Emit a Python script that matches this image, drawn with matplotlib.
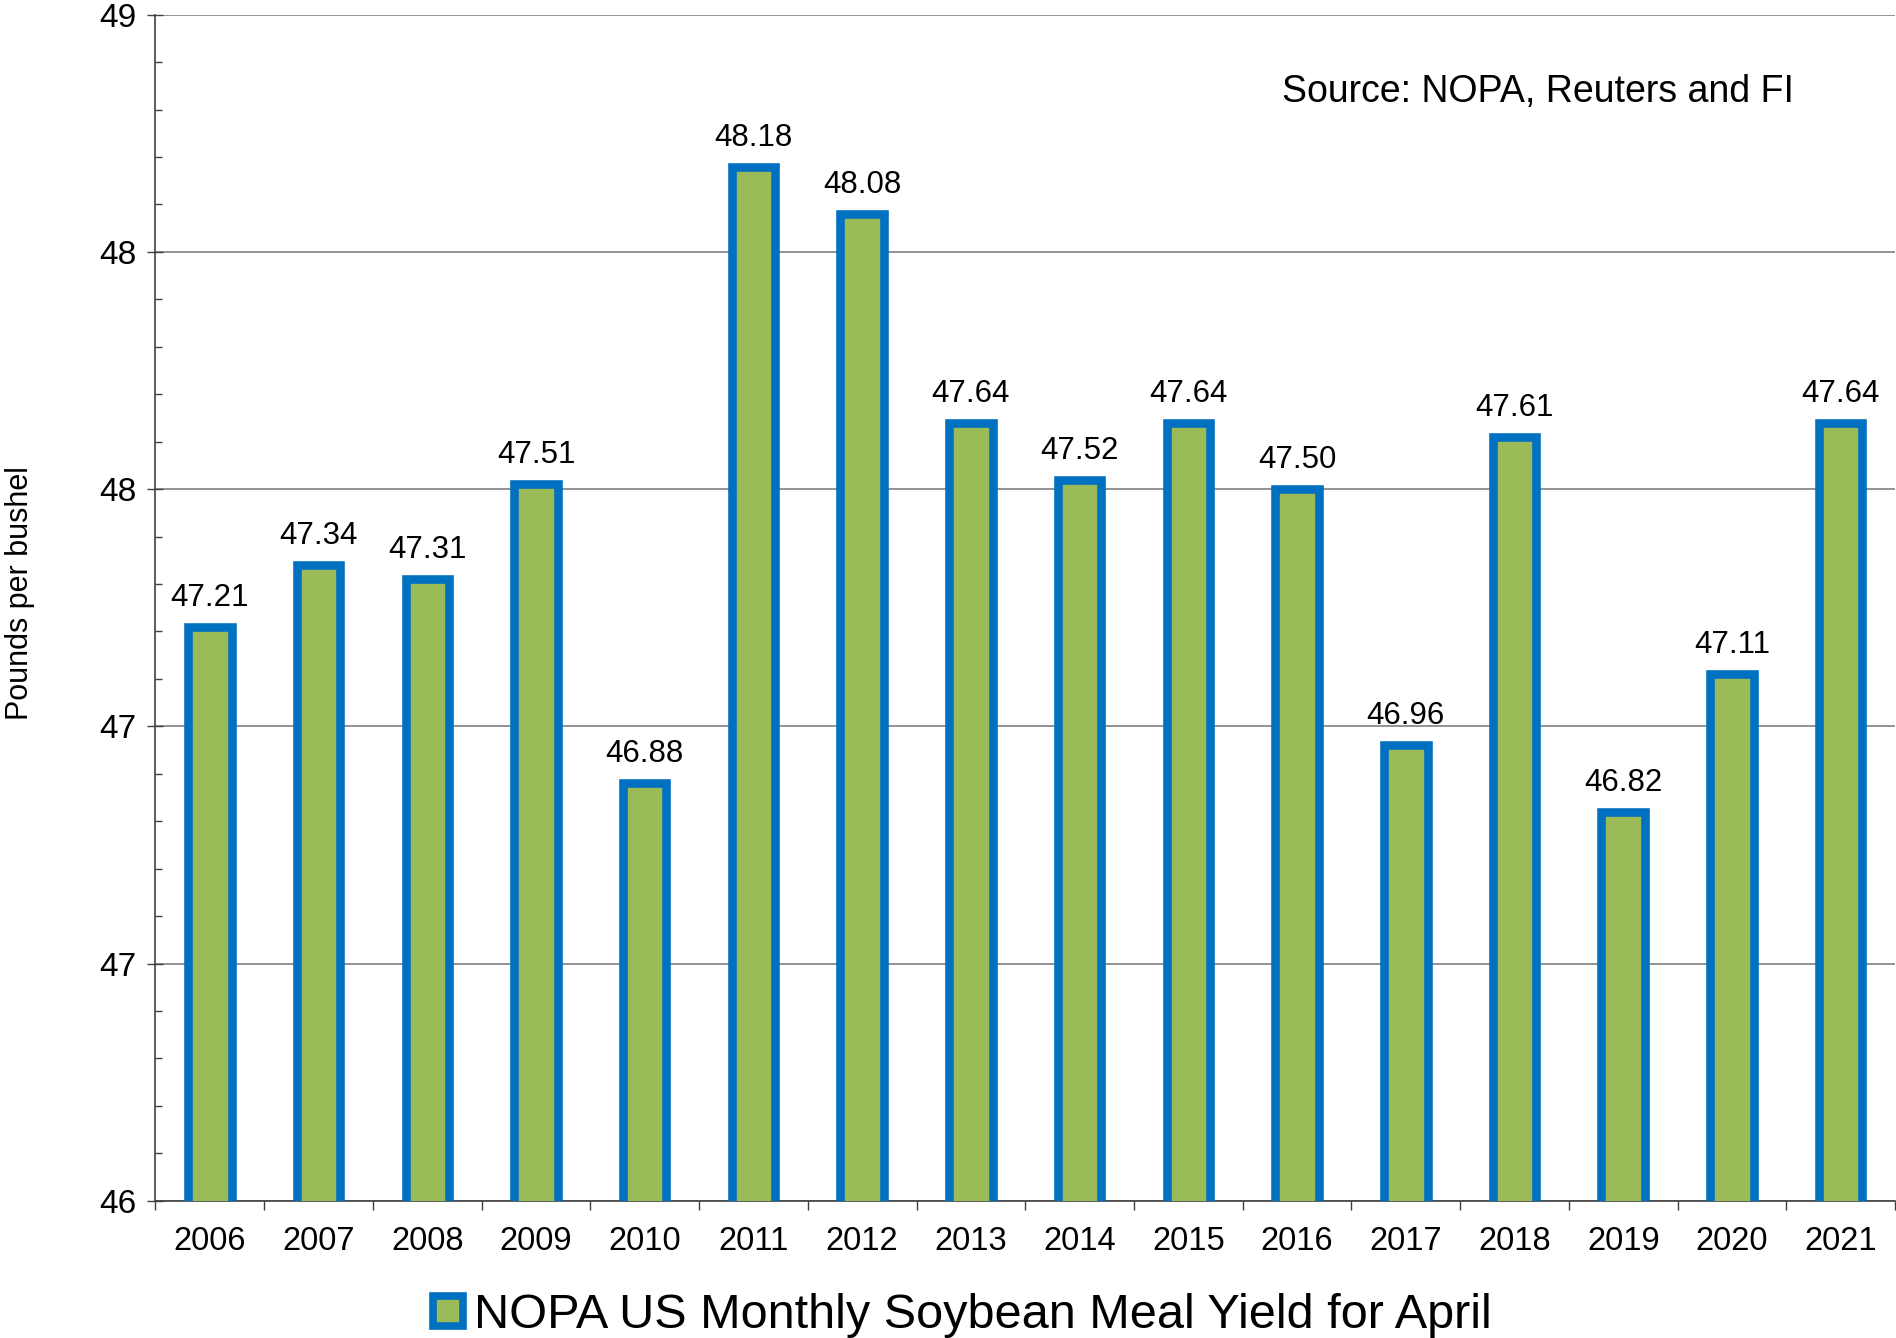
import numpy as np
import matplotlib.pyplot as plt
from matplotlib.lines import Line2D
from matplotlib.ticker import MultipleLocator, FixedLocator

plt.rcParams['font.family'] = ['Liberation Sans', 'DejaVu Sans']

# April soybean meal yield, pounds per bushel
years = ['2006', '2007', '2008', '2009', '2010', '2011', '2012', '2013',
         '2014', '2015', '2016', '2017', '2018', '2019', '2020', '2021']
yields = [47.21, 47.34, 47.31, 47.51, 46.88, 48.18, 48.08, 47.64,
          47.52, 47.64, 47.50, 46.96, 47.61, 46.82, 47.11, 47.64]

# axis ticks every 0.5, labels rounded to whole numbers like the original
ytick_vals = [46.0, 46.5, 47.0, 47.5, 48.0, 48.5]
ytick_labels = ['46', '47', '47', '48', '48', '49']

green = '#9BBB59'
blue = '#0070C0'

fig = plt.figure(figsize=(18.96, 13.38), dpi=100)
ax = fig.add_axes([0.082, 0.1026, 0.9175, 0.8864])

x = np.arange(len(years))
ax.bar(x, yields, width=0.4, bottom=0, color=green, edgecolor=blue,
       linewidth=6.2, zorder=3)

# value labels above the bars
for xi, v in zip(x, yields):
    ax.annotate(f'{v:.2f}', (xi, v), xytext=(0, 10), textcoords='offset points',
                ha='center', va='bottom', fontsize=22.5, zorder=4)

ax.set_xlim(-0.5, len(years) - 0.5)
ax.set_ylim(46, 48.5)

ax.set_yticks(ytick_vals)
ax.set_yticklabels(ytick_labels, fontsize=24)
ax.yaxis.set_minor_locator(MultipleLocator(0.1))
ax.tick_params(axis='y', which='major', direction='inout', length=11.5,
               width=1, color='#404040', pad=8)
ax.tick_params(axis='y', which='minor', direction='in', length=5,
               width=1, color='#404040')

ax.set_xticks(x)
ax.set_xticklabels(years, fontsize=23.5)
ax.xaxis.set_minor_locator(FixedLocator(np.arange(-0.5, len(years), 1.0)))
ax.tick_params(axis='x', which='major', length=0, pad=18)
ax.tick_params(axis='x', which='minor', direction='out', length=6.5,
               width=1, color='#404040')

ax.grid(axis='y', which='major', color='#808080', linewidth=1.2, zorder=0)
ax.set_axisbelow(True)
for s in ['top', 'right']:
    ax.spines[s].set_visible(False)
for s in ['left', 'bottom']:
    ax.spines[s].set_color('#404040')
    ax.spines[s].set_linewidth(1.2)

fig.text(0.0105, 0.557, 'Pounds per bushel', rotation=90, fontsize=22,
         ha='center', va='center')

fig.text(0.676, 0.931, 'Source: NOPA, Reuters and FI', fontsize=27,
         ha='left', va='center')

handle = Line2D([], [], linestyle='none', marker='s', markersize=22,
                markerfacecolor=green, markeredgecolor=blue, markeredgewidth=5.5)
fig.legend([handle], ['NOPA US Monthly Soybean Meal Yield for April'],
           loc='center', bbox_to_anchor=(0.507, 0.017), frameon=False,
           fontsize=35, handlelength=0.7, handletextpad=0.2, borderpad=0)

fig.savefig('out.png', dpi=100)
